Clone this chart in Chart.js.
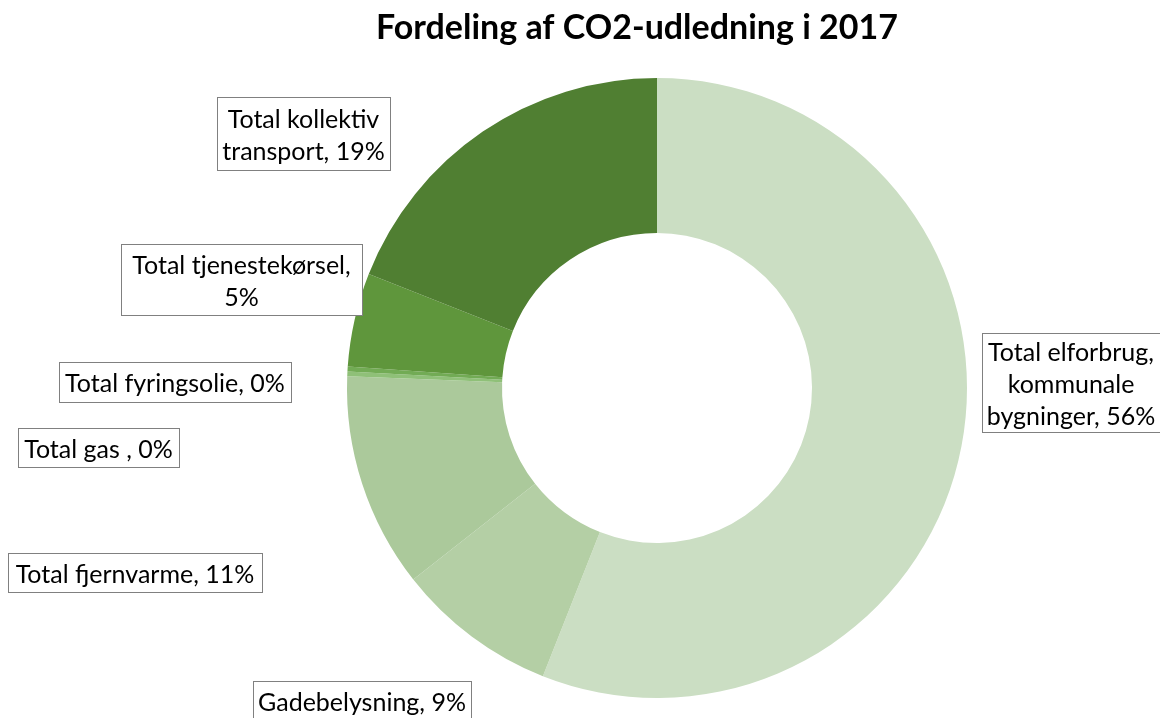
<!DOCTYPE html>
<html>
<head>
<meta charset="utf-8">
<script src="https://cdn.jsdelivr.net/npm/chart.js@4/dist/chart.umd.min.js"></script>
<style>
  html, body { margin: 0; padding: 0; background: #fff; }
  #wrap { width: 1160px; height: 718px; }
</style>
</head>
<body>
<div id="wrap"><canvas id="co2Chart" width="1160" height="718"></canvas></div>
<script>
// data
var titel = "Fordeling af CO2-udledning i 2017";
var kategorier = [
    ["Total elforbrug,", "kommunale", "bygninger, 56%"],
    ["Gadebelysning, 9%"],
    ["Total fjernvarme, 11%"],
    ["Total gas , 0%"],
    ["Total fyringsolie, 0%"],
    ["Total tjenestekørsel,", "5%"],
    ["Total kollektiv", "transport, 19%"]
];
var andele = [56.0, 8.4, 11.2, 0.25, 0.25, 4.9, 19.0];
var farver = ["#cbdec3", "#b4cfa5", "#abc99b", "#8fc078", "#72ab55", "#5f963c", "#507f32"];

// label boxes (x, y, w, h) - manually placed like in excel
var labelBokse = [
    [982, 333, 178, 99],
    [253, 681, 218, 40],
    [8, 553, 254, 39],
    [18, 428, 161, 39],
    [59, 362, 232, 40],
    [121, 244, 241, 71],
    [217, 97, 173, 73]
];

var labelPlugin = {
    id: "labelPlugin",
    afterDraw: function (chart) {
        var ctx = chart.ctx;
        ctx.save();
        // title
        ctx.fillStyle = "#000";
        ctx.font = "bold 34px Lato, 'Open Sans', sans-serif";
        ctx.textAlign = "center";
        ctx.textBaseline = "middle";
        ctx.fillText(titel, 637, 28);

        ctx.font = "25px Lato, 'Open Sans', sans-serif";
        for (var i = 0; i < kategorier.length; i++) {
            var b = labelBokse[i];
            ctx.fillStyle = "#fff";
            ctx.fillRect(b[0], b[1], b[2], b[3]);
            ctx.strokeStyle = "#808080";
            ctx.lineWidth = 1;
            ctx.strokeRect(b[0] + 0.5, b[1] + 0.5, b[2], b[3]);
            ctx.fillStyle = "#000";
            var linjer = kategorier[i];
            var lh = 32;
            var cy = b[1] + b[3] / 2 - (linjer.length - 1) * lh / 2 + 2;
            for (var j = 0; j < linjer.length; j++) {
                ctx.fillText(linjer[j], b[0] + b[2] / 2, cy + j * lh);
            }
        }
        ctx.restore();
    }
};

var ctxD = document.getElementById("co2Chart").getContext("2d");
var co2Chart = new Chart(ctxD, {
    type: "doughnut",
    data: {
        labels: kategorier.map(function (k) { return k.join(" "); }),
        datasets: [{
            data: andele,
            backgroundColor: farver,
            borderWidth: 0
        }]
    },
    options: {
        responsive: false,
        animation: false,
        cutout: "50%",
        layout: {
            padding: { top: 78, bottom: 20, left: 154, right: 0 }
        },
        plugins: {
            legend: { display: false },
            tooltip: { enabled: false },
            title: { display: false }
        }
    },
    plugins: [labelPlugin]
});
</script>
</body>
</html>
